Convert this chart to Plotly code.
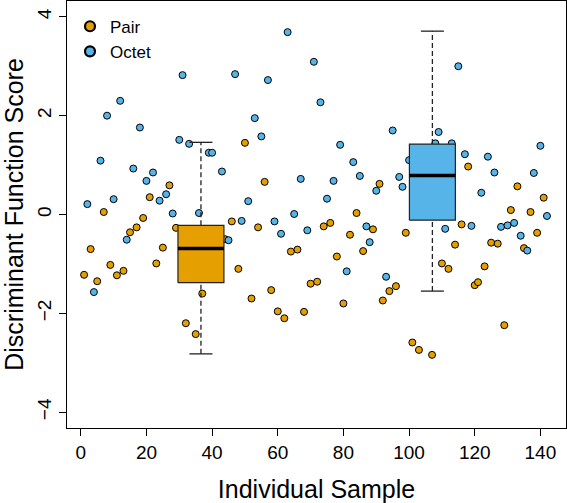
import plotly.graph_objects as go

# ---- data ----
pair_x = [1, 3, 5, 7, 9, 11, 13, 15, 17, 19, 21, 23, 25, 27, 29, 32, 35, 37, 44, 46,
          48, 50, 52, 54, 56, 58, 60, 62, 64, 66, 68, 70, 72, 74, 76, 78, 80, 82, 84, 86,
          89, 91, 92, 94, 96, 99, 101, 103, 107, 110, 112, 114, 116, 118, 120, 121, 123,
          125, 127, 129, 131, 133, 135, 137, 139, 141]
pair_y = [-1.22, -0.70, -1.35, 0.05, -1.02, -1.23, -1.14, -0.36, -0.26, -0.07, 0.35, -0.99,
          -0.67, 0.59, -0.27, -2.20, -2.42, -1.60, -0.50, -0.14,
          -1.10, 1.45, -1.70, -0.26, 0.66, -1.53, -1.96, -2.10, -0.75, -0.71, -1.97, -1.40,
          -1.36, -0.24, -0.17, -0.85, -1.80, -0.41, 0.03, -0.74,
          -0.30, 0.62, -1.74, -1.55, -1.45, -0.37, -2.59, -2.74, -2.84, -0.99, -1.10, -0.61,
          -0.20, 0.97, -1.43, -1.37, -1.05,
          -0.57, -0.59, -2.24, 0.09, 0.57, -0.68, 0.05, -0.37, 0.34]

octet_x = [2, 4, 6, 8, 10, 12, 14, 16, 18, 20, 22, 24, 26, 28, 30, 31, 33, 36, 39, 40,
           43, 45, 47, 49, 51, 53, 55, 57, 59, 61, 63, 65, 67, 69, 71, 73, 75, 77, 79, 81,
           83, 85, 87, 88, 90, 93, 95, 97, 98, 100, 108, 109, 111, 113, 115, 117, 119, 122,
           124, 126, 128, 130, 132, 134, 136, 138, 140, 142]
octet_y = [0.21, -1.57, 1.09, 2.00, 0.31, 2.30, -0.51, 0.93, 1.76, 0.68, 0.85, 0.28, 0.41,
           0.02, 1.51, 2.82, 1.43, 0.03, 1.25, 1.25,
           0.87, -0.52, 2.84, -0.13, 0.27, 1.95, 1.58, 2.72, -0.14, -0.39, 3.69, 0.01, 0.72,
           -0.32, 3.09, 2.27, 0.32, 0.68, 1.41, -1.15,
           1.06, 0.78, -0.24, -0.56, 0.48, -1.26, 1.70, 0.76, 0.56, 1.10, 1.44, 1.67, -0.29,
           1.44, 3.00, 1.22, -0.23, 0.44,
           1.17, 0.85, -0.25, -0.22, -0.17, -0.43, -0.73, 0.84, 1.39, -0.03]

groups = ["Pair", "Octet"]
box_pos = [36.6, 107.1]
box_lower = [-2.82, -1.55]
box_q1 = [-1.38, -0.115]
box_median = [-0.69, 0.79]
box_q3 = [-0.22, 1.425]
box_upper = [1.46, 3.71]

x_ticks = [0, 20, 40, 60, 80, 100, 120, 140]
y_ticks = [-4, -2, 0, 2, 4]

# ---- styles ----
colors = {"Pair": "#E69F00", "Octet": "#56B4E9"}
FONT = "Liberation Sans, Arial, Helvetica, sans-serif"
box_half = 7.0
cap_half = 3.5

fig = go.Figure()

# scatter points
for name, xs, ys in [("Pair", pair_x, pair_y), ("Octet", octet_x, octet_y)]:
    fig.add_trace(go.Scatter(
        x=xs, y=ys, mode="markers", showlegend=False, name=name,
        marker=dict(size=7, color=colors[name], line=dict(color="black", width=1)),
        hoverinfo="x+y"))

# boxplots (drawn on top of points)
for i, name in enumerate(groups):
    c = box_pos[i]
    q1, q3, med, lo, hi = box_q1[i], box_q3[i], box_median[i], box_lower[i], box_upper[i]
    fig.add_trace(go.Scatter(
        x=[c, c, None, c, c], y=[q3, hi, None, lo, q1], mode="lines",
        line=dict(color="#222222", width=1.3, dash="5px,3px"),
        showlegend=False, hoverinfo="skip"))
    fig.add_trace(go.Scatter(
        x=[c - cap_half, c + cap_half, None, c - cap_half, c + cap_half],
        y=[hi, hi, None, lo, lo], mode="lines",
        line=dict(color="#222222", width=1.3),
        showlegend=False, hoverinfo="skip"))
    fig.add_trace(go.Scatter(
        x=[c - box_half, c + box_half, c + box_half, c - box_half, c - box_half],
        y=[q1, q1, q3, q3, q1], mode="lines", fill="toself",
        fillcolor=colors[name], line=dict(color="#222222", width=1.2),
        showlegend=False, hoverinfo="skip"))
    fig.add_trace(go.Scatter(
        x=[c - box_half, c + box_half], y=[med, med], mode="lines",
        line=dict(color="black", width=3.5),
        showlegend=False, hoverinfo="skip"))

# legend entries
for name in groups:
    fig.add_trace(go.Scatter(
        x=[None], y=[None], mode="markers", name=name,
        marker=dict(size=10, color=colors[name], line=dict(color="black", width=2.2))))

fig.update_layout(
    width=567, height=503,
    margin=dict(l=67, r=1, t=1, b=75),
    paper_bgcolor="white", plot_bgcolor="white",
    font=dict(family=FONT, color="black"),
    showlegend=True,
    legend=dict(x=0.006, y=0.982, xanchor="left", yanchor="top",
                bgcolor="rgba(0,0,0,0)", font=dict(size=17, family=FONT),
                itemsizing="trace", tracegroupgap=0),
    xaxis=dict(range=[-4.2, 147.8], tickvals=x_ticks, ticktext=[str(v) for v in x_ticks],
               showgrid=False, zeroline=False, showline=True, mirror=True, automargin=False,
               linecolor="black", linewidth=1, ticks="outside", ticklen=7,
               tickcolor="black", tickwidth=1, tickfont=dict(size=19),
               title=dict(text="Individual Sample", font=dict(size=25), standoff=20)),
    yaxis=dict(range=[-4.32, 4.32], tickvals=y_ticks,
               ticktext=["\u22124", "\u22122", "0", "2", "4"], automargin=False,
               showgrid=False, zeroline=False, showline=True, mirror=True,
               linecolor="black", linewidth=1, ticks="outside", ticklen=7,
               tickcolor="black", tickwidth=1, tickfont=dict(size=19), tickangle=-90,
               title=dict(text="Discriminant Function Score", font=dict(size=25), standoff=8)),
)

fig.write_html("out.html", config={"displayModeBar": False},
               post_script="document.body.style.margin='0';document.body.style.padding='0';")
